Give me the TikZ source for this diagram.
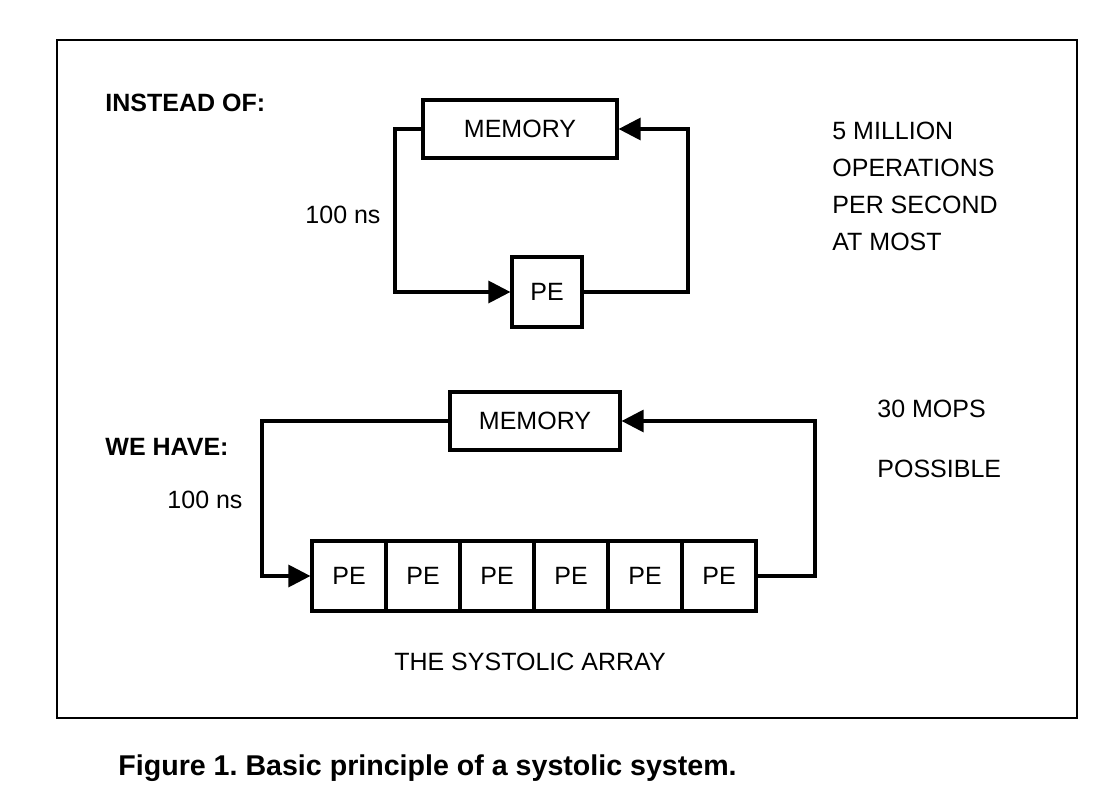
\documentclass[tikz,border=0pt]{standalone}
\usepackage{fontspec}
\setmainfont{Liberation Sans}
\usetikzlibrary{arrows.meta}
\begin{document}
\frenchspacing
\begin{tikzpicture}[x=0.5pt,y=-0.5pt,
  box/.style={draw,line width=1.6pt,inner sep=0pt},
  wire/.style={line width=1.6pt},
  arr/.style={wire,-{Triangle[length=11pt,width=11pt]}},
  lbl/.style={font=\fontsize{12.5}{14}\selectfont,inner sep=0pt},
  hd/.style={font=\fontsize{12.5}{14}\selectfont\bfseries,inner sep=0pt,anchor=west}]
\useasboundingbox (0,0) rectangle (1102,802);
\draw[line width=1.3pt] (57,40) rectangle (1077,718);
% top
\node[hd] (h1) at (105,103) {INSTEAD OF:};
\node[box,minimum width=97pt,minimum height=29pt,lbl] (m1) at (520,129) {MEMORY};
\node[box,minimum width=35pt,minimum height=35pt,lbl] (p1) at (547,292) {PE};
\coordinate (a1) at (395,129); \coordinate (a2) at (395,292);
\coordinate (b1) at (688,292); \coordinate (b2) at (688,129);
\draw[arr] (m1.west) -- (a1) -- (a2) -- (p1.west);
\draw[arr] (p1.east) -- (b1) -- (b2) -- (m1.east);
\node[lbl] (t1) at (343,215) {100 ns};
\node[lbl,anchor=north west,align=left,font=\fontsize{12.5}{18.5}\selectfont] (r1) at (832,122) {5 MILLION\\OPERATIONS\\PER SECOND\\AT MOST};
% bottom
\node[hd] (h2) at (105,447) {WE HAVE:};
\node[box,minimum width=85pt,minimum height=29pt,lbl] (m2) at (535,421) {MEMORY};
\foreach \i in {0,...,5} {
  \node[box,minimum width=37pt,minimum height=35pt,lbl] (c\i) at ({349+74*\i},576) {PE};
}
\coordinate (d1) at (262,421); \coordinate (d2) at (262,576);
\coordinate (e1) at (815,576); \coordinate (e2) at (815,421);
\draw[arr] (m2.west) -- (d1) -- (d2) -- (c0.west);
\draw[arr] (c5.east) -- (e1) -- (e2) -- (m2.east);
\node[lbl] (t2) at (205,500) {100 ns};
\node[lbl,anchor=north west,align=left,font=\fontsize{12.5}{30}\selectfont] (r2) at (877,400) {30 MOPS\\POSSIBLE};
\node[lbl] (sa) at (530,662) {THE SYSTOLIC ARRAY};
\node[anchor=west,inner sep=0pt,font=\fontsize{14.3}{16}\selectfont\bfseries] (cap) at (118,768) {Figure 1. Basic principle of a systolic system.};
\end{tikzpicture}
\end{document}
